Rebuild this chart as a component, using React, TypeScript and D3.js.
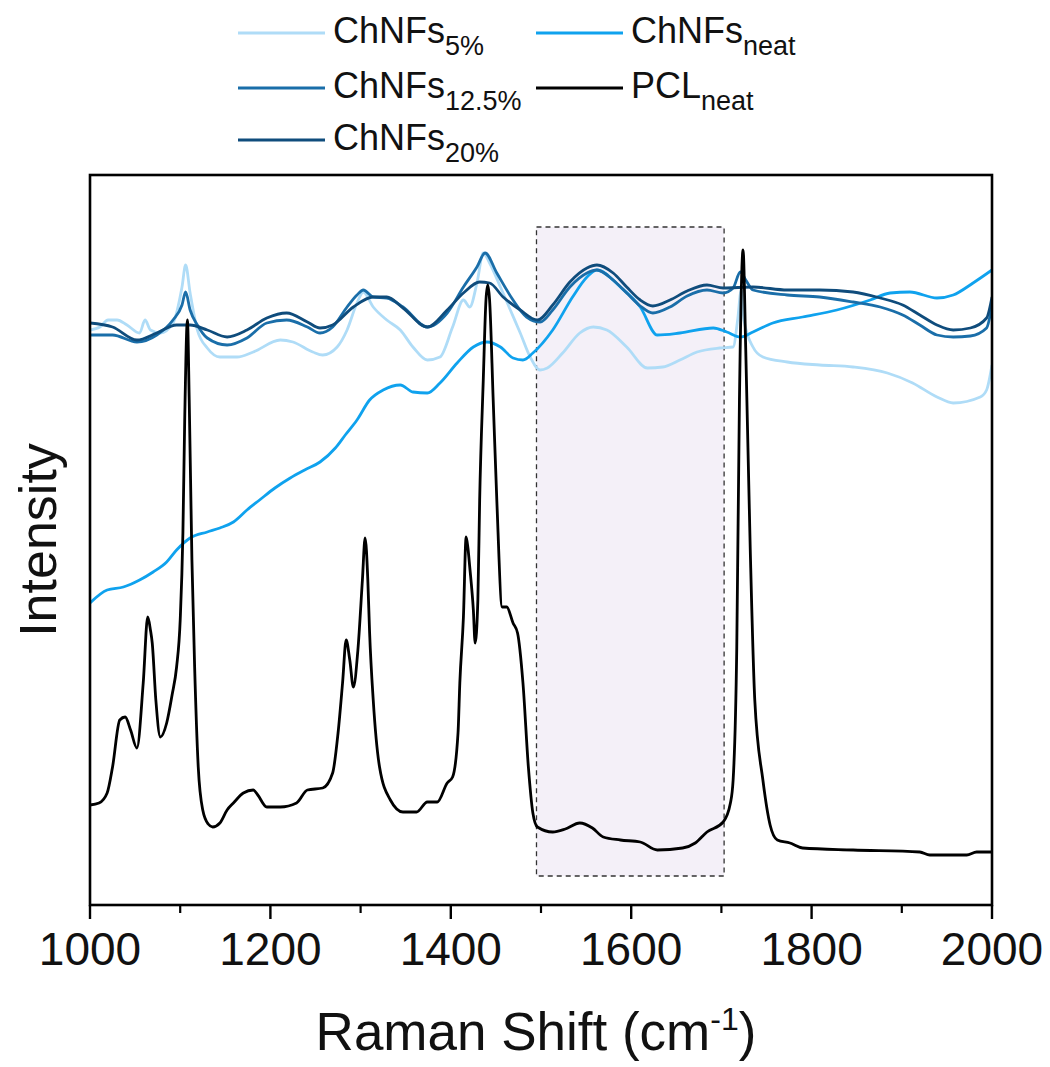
import React from "react";
import * as d3 from "d3";

type P = [number, number];

const xTicksMajor = [1000, 1200, 1400, 1600, 1800, 2000];
const xTicksMinor = [1100, 1300, 1500, 1700, 1900];
const highlightRange = [1495, 1703];
const highlightY = [29, 678];

const pclNeat: P[] = [
  [1000, 100], [1010, 102], [1019, 112], [1025, 138], [1033, 185], [1039, 188], [1045, 175], [1052, 157],
  [1059, 222], [1064, 288], [1067, 275], [1069, 262], [1073, 205], [1078, 168], [1085, 182], [1091, 210],
  [1096, 238], [1100, 285], [1103, 372], [1105, 485], [1108, 585], [1110, 505], [1113, 345], [1116, 238],
  [1120, 138], [1125, 95], [1131, 81], [1136, 78], [1144, 82], [1152, 95], [1159, 102], [1170, 112],
  [1181, 115], [1186, 110], [1196, 98], [1211, 98], [1229, 102], [1241, 115], [1258, 117], [1269, 132],
  [1275, 172], [1280, 222], [1284, 265], [1288, 245], [1292, 218], [1297, 255], [1302, 325], [1305, 367],
  [1308, 325], [1310, 272], [1314, 205], [1321, 138], [1333, 105], [1347, 93], [1362, 93], [1374, 103],
  [1385, 103], [1396, 122], [1402, 128], [1408, 172], [1410, 222], [1414, 288], [1417, 368], [1419, 357],
  [1421, 338], [1425, 295], [1427, 262], [1430, 305], [1432, 405], [1436, 525], [1439, 605], [1441, 620],
  [1443, 605], [1447, 505], [1451, 405], [1457, 298], [1462, 298], [1469, 282], [1474, 272], [1480, 222],
  [1486, 138], [1491, 92], [1496, 78], [1513, 73], [1527, 76], [1543, 82], [1557, 77], [1569, 68],
  [1588, 65], [1610, 63], [1629, 55], [1657, 57], [1671, 62], [1684, 73], [1702, 83], [1710, 102],
  [1713, 125], [1717, 255], [1720, 505], [1724, 655], [1727, 555], [1732, 355], [1737, 205], [1746, 125],
  [1754, 80], [1762, 65], [1776, 62], [1790, 57], [1846, 55], [1920, 53], [1931, 50], [1972, 50],
  [1983, 53], [2000, 53],
];

const chnfsNeat: P[] = [
  [1000, 302], [1019, 315], [1037, 318], [1055, 325], [1070, 333], [1085, 343], [1096, 355], [1111, 367],
  [1130, 373], [1144, 377], [1159, 383], [1174, 395], [1188, 405], [1205, 417], [1222, 427], [1238, 435],
  [1255, 443], [1272, 457], [1283, 470], [1296, 485], [1310, 505], [1325, 515], [1344, 520], [1358, 513],
  [1374, 512], [1388, 522], [1407, 542], [1425, 558], [1440, 563], [1455, 558], [1469, 547], [1480, 545],
  [1491, 552], [1513, 575], [1535, 608], [1551, 628], [1562, 635], [1588, 618], [1610, 598], [1629, 570],
  [1654, 572], [1691, 577], [1706, 573], [1721, 568], [1735, 573], [1757, 582], [1790, 588], [1828, 595],
  [1865, 605], [1887, 612], [1909, 613], [1939, 607], [1957, 610], [1979, 622], [2000, 635],
];

const chnfs5: P[] = [
  [1000, 575], [1011, 578], [1020, 585], [1030, 585], [1041, 580], [1055, 572], [1061, 585], [1067, 575],
  [1078, 572], [1092, 582], [1102, 618], [1106, 640], [1111, 612], [1119, 575], [1130, 557], [1144, 548],
  [1163, 548], [1181, 553], [1211, 565], [1225, 563], [1247, 553], [1258, 550], [1274, 558], [1285, 575],
  [1296, 602], [1303, 613], [1314, 598], [1329, 585], [1344, 575], [1358, 558], [1374, 545], [1388, 548],
  [1402, 578], [1414, 605], [1421, 598], [1429, 622], [1436, 652], [1443, 642], [1455, 618], [1466, 595],
  [1477, 572], [1488, 548], [1499, 535], [1507, 537], [1524, 552], [1543, 572], [1558, 578], [1573, 575],
  [1595, 558], [1618, 537], [1635, 538], [1654, 545], [1673, 553], [1698, 557], [1713, 558], [1718, 585],
  [1722, 615], [1725, 585], [1735, 558], [1746, 548], [1773, 543], [1809, 540], [1846, 538], [1884, 532],
  [1912, 522], [1939, 508], [1957, 502], [1987, 508], [1994, 515], [2000, 540],
];

const chnfs125: P[] = [
  [1000, 570], [1025, 570], [1052, 563], [1074, 570], [1092, 585], [1102, 600], [1106, 613], [1111, 595],
  [1119, 580], [1130, 567], [1152, 560], [1174, 567], [1196, 582], [1218, 585], [1241, 578], [1255, 572],
  [1269, 578], [1285, 598], [1296, 610], [1303, 615], [1314, 608], [1329, 607], [1347, 598], [1374, 578],
  [1396, 592], [1414, 618], [1429, 638], [1438, 652], [1451, 632], [1469, 605], [1484, 588], [1499, 583],
  [1513, 595], [1532, 618], [1551, 632], [1562, 635], [1580, 625], [1595, 612], [1610, 599], [1624, 592],
  [1643, 598], [1662, 609], [1684, 615], [1702, 612], [1713, 617], [1721, 633], [1727, 625], [1735, 615],
  [1773, 610], [1809, 608], [1846, 603], [1876, 598], [1901, 590], [1920, 580], [1939, 570], [1957, 568],
  [1976, 569], [1994, 577], [2000, 600],
];

const chnfs20: P[] = [
  [1000, 582], [1025, 578], [1052, 565], [1074, 572], [1096, 580], [1111, 580], [1130, 575], [1152, 568],
  [1174, 575], [1196, 587], [1218, 592], [1241, 583], [1255, 577], [1269, 580], [1292, 598], [1314, 608],
  [1329, 608], [1347, 597], [1374, 578], [1396, 595], [1414, 612], [1432, 623], [1443, 622], [1458, 608],
  [1477, 595], [1496, 585], [1513, 600], [1532, 623], [1551, 637], [1562, 640], [1580, 632], [1595, 618],
  [1610, 605], [1624, 599], [1643, 605], [1662, 614], [1684, 620], [1702, 617], [1735, 618], [1773, 615],
  [1809, 615], [1846, 613], [1876, 607], [1901, 600], [1920, 590], [1939, 580], [1957, 575], [1976, 577],
  [1994, 587], [2000, 608],
];

const seriesNames = ["ChNFs5%", "ChNFs12.5%", "ChNFs20%", "ChNFsneat", "PCLneat"];
const seriesColors = ["#afdcf7", "#1a6ea9", "#0f4c7c", "#0fa2ee", "#000000"];
const legendBase = ["ChNFs", "ChNFs", "ChNFs", "ChNFs", "PCL"];
const legendSub = ["5%", "12.5%", "20%", "neat", "neat"];

const W = 1050;
const H = 1067;
const plot = { left: 90, right: 992, top: 175, bottom: 905 };

export default function App() {
  const x = d3.scaleLinear().domain([1000, 2000]).range([plot.left, plot.right]);
  const y = d3.scaleLinear().domain([0, 730]).range([plot.bottom, plot.top]);
  const line = d3
    .line<P>()
    .x((d) => x(d[0]))
    .y((d) => y(d[1]))
    .curve(d3.curveMonotoneX);

  const drawOrder: [P[], number][] = [
    [chnfs5, 0],
    [chnfsNeat, 3],
    [chnfs125, 1],
    [chnfs20, 2],
    [pclNeat, 4],
  ];

  const legendPos = [
    { lx: 238, ly: 33 },
    { lx: 238, ly: 88 },
    { lx: 238, ly: 140 },
    { lx: 536, ly: 33 },
    { lx: 536, ly: 88 },
  ];

  const font = "'Liberation Sans', Arial, sans-serif";

  return (
    <svg
      width={W}
      height={H}
      style={{ position: "absolute", left: 0, top: 0, background: "#fff" }}
      fontFamily={font}
    >
      <defs>
        <clipPath id="plotClip">
          <rect x={plot.left} y={plot.top} width={plot.right - plot.left} height={plot.bottom - plot.top} />
        </clipPath>
      </defs>
      <rect
        x={x(highlightRange[0])}
        y={y(highlightY[1])}
        width={x(highlightRange[1]) - x(highlightRange[0])}
        height={y(highlightY[0]) - y(highlightY[1])}
        fill="#f4f0f8"
        stroke="#333"
        strokeWidth={1.3}
        strokeDasharray="5,4"
      />
      <g clipPath="url(#plotClip)">
        {drawOrder.map(([data, ci]) => (
          <path
            key={seriesNames[ci]}
            d={line(data) || ""}
            fill="none"
            stroke={seriesColors[ci]}
            strokeWidth={2.8}
            strokeLinejoin="round"
          />
        ))}
      </g>
      <rect
        x={plot.left}
        y={plot.top}
        width={plot.right - plot.left}
        height={plot.bottom - plot.top}
        fill="none"
        stroke="#000"
        strokeWidth={2.6}
      />
      {xTicksMajor.map((t) => (
        <g key={"M" + t}>
          <line x1={x(t)} x2={x(t)} y1={plot.bottom} y2={plot.bottom + 14} stroke="#000" strokeWidth={2.4} />
          <text x={x(t)} y={965} textAnchor="middle" fontSize={46} fill="#111">
            {t}
          </text>
        </g>
      ))}
      {xTicksMinor.map((t) => (
        <line key={"m" + t} x1={x(t)} x2={x(t)} y1={plot.bottom} y2={plot.bottom + 8} stroke="#000" strokeWidth={2.2} />
      ))}
      <text x={(plot.left + plot.right) / 2 - 5} y={1050} textAnchor="middle" fontSize={53} fill="#111">
        Raman Shift (cm
        <tspan dy={-20} fontSize={32}>-1</tspan>
        <tspan dy={20}>)</tspan>
      </text>
      <text
        transform={`translate(56, 540) rotate(-90)`}
        textAnchor="middle"
        fontSize={52}
        fill="#111"
      >
        Intensity
      </text>
      {legendPos.map((p, i) => (
        <g key={"leg" + i}>
          <line x1={p.lx} x2={p.lx + 87} y1={p.ly} y2={p.ly} stroke={seriesColors[i]} strokeWidth={3.2} />
          <text x={p.lx + 95} y={p.ly + 10} fontSize={36} fill="#111">
            {legendBase[i]}
            <tspan dy={12} fontSize={27}>{legendSub[i]}</tspan>
          </text>
        </g>
      ))}
    </svg>
  );
}
